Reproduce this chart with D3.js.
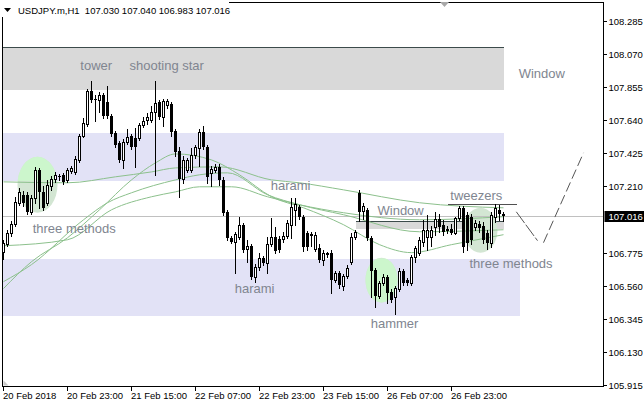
<!DOCTYPE html>
<html><head><meta charset="utf-8">
<script src="https://cdn.jsdelivr.net/npm/d3@7"></script>
<style>html,body{margin:0;padding:0;background:#fff;}svg{display:block;}</style>
</head><body>
<svg id="c" width="644" height="408"></svg>
<script>
// ---------- DATA ----------
const headerText = "USDJPY.m,H1  107.030 107.040 106.983 107.016";
const lastPrice = 107.016;
const open = [106.782,106.834,106.905,106.964,107.100,107.153,107.153,107.042,107.133,107.315,107.172,107.100,107.211,107.256,107.276,107.282,107.250,107.309,107.302,107.380,107.536,107.614,107.829,107.776,107.770,107.803,107.757,107.666,107.556,107.490,107.380,107.497,107.536,107.523,107.523,107.608,107.640,107.640,107.692,107.757,107.660,107.738,107.744,107.569,107.439,107.257,107.315,107.315,107.413,107.458,107.562,107.465,107.296,107.315,107.335,107.250,107.042,106.873,106.847,106.880,106.958,106.802,106.821,106.620,106.685,106.743,106.711,106.834,106.880,106.867,106.867,106.886,106.958,107.055,107.075,107.010,106.906,106.899,106.802,106.808,106.730,106.776,106.776,106.600,106.646,106.561,106.626,106.717,106.880,107.166,107.049,107.055,106.873,106.665,106.496,106.581,106.620,106.522,106.490,106.542,106.659,106.600,106.581,106.750,106.776,106.847,106.880,106.880,106.945,106.997,106.957,106.932,106.932,106.906,107.003,107.068,107.023,107.010,106.945,106.964,106.951,106.906,106.841,107.010,107.055,107.030];
const high = [106.860,106.925,106.984,107.140,107.198,107.179,107.172,107.153,107.335,107.328,107.211,107.250,107.276,107.302,107.289,107.295,107.328,107.341,107.406,107.549,107.653,107.842,107.894,107.800,107.822,107.816,107.861,107.679,107.569,107.503,107.517,107.582,107.549,107.588,107.620,107.660,107.686,107.731,107.894,107.770,107.777,107.777,107.757,107.582,107.465,107.406,107.393,107.458,107.478,107.582,107.601,107.478,107.341,107.354,107.354,107.270,107.055,106.886,106.912,107.010,106.971,106.861,106.834,106.704,106.776,106.756,106.880,107.000,106.945,106.886,106.912,106.990,107.133,107.133,107.087,107.023,106.918,106.912,106.912,106.834,106.795,106.782,106.795,106.659,106.659,106.639,106.698,106.906,106.925,107.185,107.101,107.068,106.887,106.678,106.593,106.639,106.633,106.542,106.561,106.678,106.672,106.613,106.762,106.821,106.880,106.990,107.023,106.951,107.042,107.029,106.990,106.951,106.964,107.010,107.081,107.081,107.042,107.029,106.990,106.984,106.977,106.925,107.042,107.094,107.088,107.040];
const low = [106.737,106.821,106.886,106.951,107.087,107.081,107.029,107.029,107.100,107.068,107.055,107.087,107.185,107.237,107.250,107.224,107.237,107.295,107.289,107.367,107.530,107.601,107.757,107.634,107.692,107.653,107.653,107.536,107.465,107.367,107.328,107.484,107.452,107.334,107.510,107.595,107.614,107.627,107.282,107.647,107.601,107.718,107.536,107.406,107.140,107.231,107.302,107.302,107.393,107.341,107.452,107.231,107.211,107.302,107.218,107.023,106.860,106.841,106.646,106.867,106.782,106.717,106.607,106.587,106.665,106.698,106.646,106.821,106.776,106.782,106.847,106.873,106.873,106.958,106.997,106.789,106.795,106.821,106.789,106.717,106.698,106.750,106.516,106.587,106.548,106.535,106.613,106.704,106.867,106.984,106.994,106.860,106.490,106.425,106.483,106.568,106.451,106.457,106.373,106.529,106.568,106.568,106.568,106.717,106.762,106.816,106.795,106.816,106.893,106.912,106.892,106.906,106.899,106.899,106.990,106.782,106.795,106.834,106.925,106.912,106.841,106.802,106.815,106.977,106.990,106.983];
const close = [106.840,106.905,106.964,107.107,107.172,107.100,107.042,107.133,107.315,107.172,107.068,107.218,107.256,107.282,107.270,107.237,107.315,107.328,107.386,107.536,107.620,107.829,107.770,107.770,107.803,107.666,107.666,107.549,107.478,107.380,107.497,107.530,107.465,107.465,107.608,107.634,107.660,107.692,107.751,107.660,107.764,107.764,107.562,107.432,107.257,107.380,107.380,107.413,107.465,107.562,107.465,107.270,107.322,107.335,107.250,107.036,106.873,106.847,106.899,106.958,106.795,106.821,106.620,106.685,106.743,106.711,106.834,106.880,106.789,106.795,106.886,106.971,107.075,107.094,107.010,106.815,106.815,106.886,106.893,106.730,106.776,106.763,106.600,106.646,106.568,106.626,106.678,106.880,106.912,107.042,107.081,106.873,106.659,106.496,106.581,106.620,106.516,106.470,106.548,106.659,106.581,106.581,106.750,106.808,106.860,106.925,106.925,106.925,106.997,106.945,106.912,106.919,106.906,107.003,107.068,106.815,106.841,106.860,106.971,106.938,106.860,106.841,107.023,107.068,107.029,107.016];

// moving averages, read at sample bars
const ma1Bars = [0,16,28,37,43,54,67,74,85,104,125];
const ma1 = [107.237,107.231,107.270,107.302,107.328,107.335,107.250,107.231,107.185,107.101,107.068];
const ma2Bars = [0,16,27,37,43,49,57,66,74,85,104,125];
const ma2 = [106.821,106.860,107.055,107.140,107.172,107.205,107.205,107.140,107.088,107.036,106.990,107.010];
const ma3Bars = [0,7,20,26,32,43,49,56,66,74,85,104,125];
const ma3 = [106.587,106.698,106.990,107.101,107.166,107.250,107.283,107.296,107.153,107.088,107.023,106.912,106.925];
const ma4Bars = [0,7,16,24,32,38,43,52,59,67,75,85,94,102,112,125];
const ma4 = [106.542,106.717,106.873,107.055,107.250,107.361,107.419,107.380,107.283,107.140,107.068,106.958,106.828,106.776,106.828,106.893];

const timeBars = [0,16,32,48,64,80,96,112];
const timeLabels = ["20 Feb 2018","20 Feb 23:00","21 Feb 15:00","22 Feb 07:00","22 Feb 23:00","23 Feb 15:00","26 Feb 07:00","26 Feb 23:00"];
const priceTicks = [108.285,108.070,107.855,107.640,107.425,107.210,106.775,106.560,106.345,106.130,105.915];

// annotation objects (bar index / price)
const zoneBars = [[-3,125],[-3,125],[-3,129],[88,125],[117.5,122]];
const zonePrices = [[108.115,107.835],[107.556,107.244],[106.737,106.366],[106.979,106.928],[106.977,106.945]];
const zoneKinds = ["gray","lav","lav","gray","pink"];
const ellipseBars = [[3.5,13.5],[90.5,98.5],[115,123.5]];
const ellipsePrices = [[107.40,107.036],[106.743,106.451],[107.068,106.776]];
const labelTexts = ["tower","shooting star","Window","three methods","harami","harami","Window","hammer","tweezers","three methods"];
const labelBars = [19.2,31.5,128.8,7.3,66.8,57.8,93.5,91.8,111.7,116.5];
const labelPrices = [107.965,107.965,107.913,106.907,107.185,106.511,107.023,106.283,107.120,106.678];
const projBars = [[128.2,133.5],[135,145]];
const projPrices = [[107.042,106.854],[106.841,107.426]];
const tweezBars = [111.2,128.3];
const tweezPrice = 107.094;

// ---------- DRAW ----------
const svg = d3.select("#c");
const L = 2.5, R = 603.5, T = 2.5, B = 386.5;
const x = d3.scaleLinear().domain([0, 150]).range([3.5, 603.5]);
const y = d3.scaleLinear().domain([105.915, 108.285]).range([384.8, 21]);
const py = v => Math.round(y(v));

svg.append("rect").attr("width",644).attr("height",408).attr("fill","#fff");
const defs = svg.append("defs");
defs.append("clipPath").attr("id","plot").append("rect")
  .attr("x",L).attr("y",T).attr("width",R-L).attr("height",B-T);
const lavClip = defs.append("clipPath").attr("id","lav");
zoneKinds.forEach((k,i)=>{ if(k==="lav") lavClip.append("rect")
  .attr("x",x(zoneBars[i][0])).attr("y",y(zonePrices[i][0]))
  .attr("width",x(zoneBars[i][1])-x(zoneBars[i][0])).attr("height",y(zonePrices[i][1])-y(zonePrices[i][0])); });

const g = svg.append("g").attr("clip-path","url(#plot)");
const zoneColor = {gray:"#d9d9d9", lav:"#e2e2f6", pink:"#f3c9ef"};
const zoneG = g.append("g").attr("shape-rendering","crispEdges");
zoneKinds.forEach((k,i)=>{
  const x0 = Math.round(x(zoneBars[i][0])), x1 = Math.round(x(zoneBars[i][1]));
  const y0 = py(zonePrices[i][0]), y1 = py(zonePrices[i][1]);
  zoneG.append("rect").attr("x",x0).attr("y",y0).attr("width",x1-x0).attr("height",y1-y0).attr("fill",zoneColor[k]);
  if (k==="gray") zoneG.append("line").attr("x1",x0).attr("x2",x1).attr("y1",y0+0.5).attr("y2",y0+0.5)
    .attr("stroke","#3c4b4b").attr("stroke-width",1);
});

// ellipses
const ellG = g.append("g");
ellipseBars.forEach((b,i)=>{
  const cx=(x(b[0])+x(b[1]))/2, cy=(y(ellipsePrices[i][0])+y(ellipsePrices[i][1]))/2;
  const rx=(x(b[1])-x(b[0]))/2, ry=(y(ellipsePrices[i][1])-y(ellipsePrices[i][0]))/2;
  ellG.append("ellipse").attr("cx",cx).attr("cy",cy).attr("rx",rx).attr("ry",ry).attr("fill","#d3e6d3");
  ellG.append("ellipse").attr("cx",cx).attr("cy",cy).attr("rx",rx).attr("ry",ry).attr("fill","#ccf6cc").attr("clip-path","url(#lav)");
});

// current price line
g.append("line").attr("x1",L).attr("x2",R).attr("y1",py(lastPrice)+0.5).attr("y2",py(lastPrice)+0.5)
  .attr("stroke","#c0c0c0").attr("shape-rendering","crispEdges");

// moving averages
const maLine = d3.line().x(d=>x(d[0])).y(d=>y(d[1])).curve(d3.curveMonotoneX);
[[ma1Bars,ma1],[ma2Bars,ma2],[ma3Bars,ma3],[ma4Bars,ma4]].forEach(([bs,vs])=>{
  g.append("path").attr("d",maLine(bs.map((b,i)=>[b,vs[i]]))).attr("fill","none")
   .attr("stroke","#8cc08c").attr("stroke-width",1);
});

// tweezers line
g.append("line").attr("x1",x(tweezBars[0])).attr("x2",x(tweezBars[1]))
  .attr("y1",py(tweezPrice)+0.5).attr("y2",py(tweezPrice)+0.5).attr("stroke","#505050").attr("shape-rendering","crispEdges");

// candles
const cg = g.append("g").attr("shape-rendering","crispEdges");
open.forEach((o,i)=>{
  const c = close[i], cx = Math.floor(x(i)) + 0.5;
  cg.append("line").attr("x1",cx).attr("x2",cx).attr("y1",py(high[i])).attr("y2",py(low[i])+1).attr("stroke","#000");
  const top = py(Math.max(o,c)), bot = py(Math.min(o,c));
  if (c >= o) {
    cg.append("rect").attr("x",cx-1).attr("y",top+0.5).attr("width",2).attr("height",Math.max(bot-top,0))
      .attr("fill","#fff").attr("stroke","#000");
  } else {
    cg.append("rect").attr("x",cx-1.5).attr("y",top).attr("width",3).attr("height",Math.max(bot-top,1)).attr("fill","#000");
  }
});

// labels
labelTexts.forEach((t,i)=>{
  g.append("text").attr("x",x(labelBars[i])).attr("y",y(labelPrices[i])).text(t)
   .attr("font-family","Liberation Sans, Arial, sans-serif").attr("font-size",13).attr("fill","#808590");
});

// projection dashed lines
projBars.forEach((b,i)=>{
  g.append("line").attr("x1",x(b[0])).attr("x2",x(b[1])).attr("y1",y(projPrices[i][0])).attr("y2",y(projPrices[i][1]))
   .attr("stroke","#555").attr("stroke-width",1).attr("stroke-dasharray", i===0 ? "14,2" : "10,4");
});

// frame
svg.append("rect").attr("x",L).attr("y",T).attr("width",R-L).attr("height",B-T)
  .attr("fill","none").attr("stroke","#000").attr("shape-rendering","crispEdges");

// price axis
const ya = svg.append("g").attr("font-family","Liberation Sans, Arial, sans-serif").attr("font-size",9.5);
priceTicks.forEach(p=>{
  const yy = py(p)+0.5;
  ya.append("line").attr("x1",R).attr("x2",R+3).attr("y1",yy).attr("y2",yy).attr("stroke","#000").attr("shape-rendering","crispEdges");
  ya.append("text").attr("x",R+5).attr("y",yy).attr("dy","0.35em").text(p.toFixed(3)).attr("fill","#000");
});
const ly = py(lastPrice);
ya.append("rect").attr("x",R+1).attr("y",ly-5).attr("width",40).attr("height",11).attr("fill","#000");
ya.append("text").attr("x",R+5).attr("y",ly+0.5).attr("dy","0.35em").text(lastPrice.toFixed(3)).attr("fill","#fff");

// time axis
const xa = svg.append("g").attr("font-family","Liberation Sans, Arial, sans-serif").attr("font-size",9.5);
timeBars.forEach((b,i)=>{
  const xx = Math.floor(x(b))+0.5;
  xa.append("line").attr("x1",xx).attr("x2",xx).attr("y1",B).attr("y2",B+4).attr("stroke","#000").attr("shape-rendering","crispEdges");
  xa.append("text").attr("x",xx-0.5).attr("y",B+12.5).text(timeLabels[i]).attr("fill","#000");
});

// small markers
svg.append("path").attr("d",`M${L+1},${B-6} L${L+1},${B-1} L${L+6},${B-1} Z`).attr("fill","#c8c8c8");
svg.append("path").attr("d","M440,2 L449,2 L444.5,7 Z").attr("fill","#a8a8a8");

// header
svg.append("rect").attr("x",0).attr("y",0).attr("width",229).attr("height",17).attr("fill","#fff");
svg.append("path").attr("d","M4,8 L11,8 L7.5,12 Z").attr("fill","#000");
svg.append("text").attr("x",18).attr("y",14).text(headerText)
  .attr("font-family","Liberation Sans, Arial, sans-serif").attr("font-size",9.5).attr("fill","#000").attr("xml:space","preserve").style("white-space","pre");
</script>
</body></html>
